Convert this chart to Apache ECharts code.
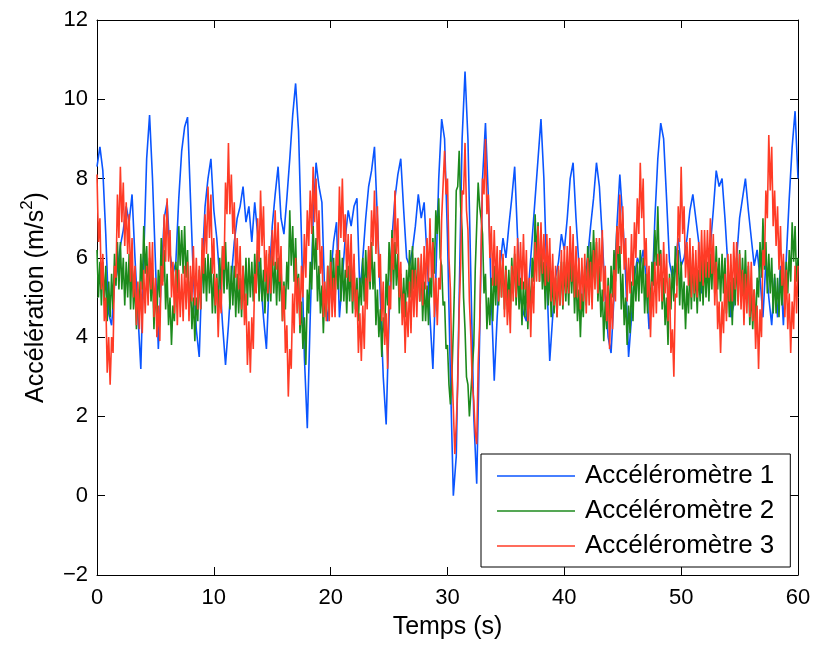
<!DOCTYPE html>
<html>
<head>
<meta charset="utf-8">
<script src="https://cdn.jsdelivr.net/npm/echarts@6/dist/echarts.min.js"></script>
<style>
html,body{margin:0;padding:0;background:#fff;}
#chart{width:818px;height:646px;}
</style>
</head>
<body>
<div id="chart"></div>
<script>
// sample steps (s)
const step1 = 0.25;
const step23 = 0.125;
const seriesNames = ['Accéléromètre 1', 'Accéléromètre 2', 'Accéléromètre 3'];
const xTicks = [0, 10, 20, 30, 40, 50, 60];
const yTicks = [-2, 0, 2, 4, 6, 8, 10, 12];

// Accéléromètre 1, one value every 0.25 s
const accel1 = [
8.3,8.8,8.2,6.6, 4.6,4.3,5.3,5.7, 6.3,6.7,7.3,6.9, 7.6,6.0,4.6,3.2,
6.0,8.5,9.6,8.0, 5.9,3.7,5.5,7.0, 7.4,6.1,5.6,5.9, 7.5,8.7,9.3,9.55,
7.5,5.5,4.2,3.5, 5.8,7.3,8.0,8.5, 7.2,6.5,5.5,4.3, 3.3,4.3,5.5,6.4,
7.0,7.3,7.8,6.9, 7.3,6.4,7.4,6.6, 5.5,4.5,3.7,5.5, 6.8,7.6,8.3,7.0,
6.6,7.5,8.5,9.6, 10.4,9.2,6.5,3.5, 1.7,4.5,7.0,8.4, 7.8,7.4,5.0,4.4,
5.5,6.4,6.9,4.5, 5.5,6.5,7.2,6.8, 7.3,7.5,5.1,6.0, 7.0,7.8,8.2,8.8,
7.0,5.0,3.0,1.8, 4.5,6.5,7.5,8.1, 8.5,7.2,6.0,5.8, 6.2,6.8,7.6,7.0,
7.4,6.0,4.5,3.2, 5.5,8.0,9.5,9.0, 6.5,3.0,0.0,1.0, 5.0,9.0,10.7,9.0,
5.5,2.0,0.3,4.0, 8.0,9.4,7.5,5.0, 2.9,4.5,5.8,6.5, 6.0,6.8,7.5,8.3,
6.5,5.0,4.6,4.4, 5.5,6.5,7.5,8.5, 9.5,8.0,5.5,3.4, 4.5,5.5,5.9,6.6,
6.2,7.0,8.0,8.4, 7.0,5.8,4.7,5.5, 6.0,6.8,7.5,8.4, 7.8,6.5,5.0,4.0,
3.6,5.0,6.8,8.1, 7.0,5.5,3.5,4.5, 5.5,6.0,5.8,6.2, 5.5,4.2,5.0,7.0,
8.5,9.4,9.0,7.5, 5.9,5.5,5.9,6.5, 5.8,6.0,6.5,7.2, 7.6,7.0,6.4,5.1,
6.0,5.5,6.3,7.2, 8.2,7.8,8.0,7.0, 5.8,4.5,4.8,6.0, 7.0,7.5,8.0,7.2,
6.5,5.8,6.2,5.5, 4.5,5.9,5.0,4.3, 5.5,4.5,5.8,4.3, 6.0,7.5,8.8,9.7,
8.0
];

// Accéléromètre 2, one value every 0.125 s (one row per second)
const accel2 = [
6.2,5.0,5.9,4.8,5.9,4.9,5.8,4.4,
5.4,4.5,5.6,4.7,6.1,5.3,6.4,5.2,
6.4,5.2,6.0,4.8,5.9,5.0,6.1,4.7,
5.9,4.7,5.4,4.2,5.2,4.7,6.1,5.2,
6.8,5.6,6.3,5.0,6.0,4.9,5.7,4.2,
5.2,4.5,5.7,5.0,6.5,5.4,6.2,4.7,
5.6,4.3,5.0,3.8,4.8,4.4,5.9,5.1,
6.8,5.8,6.7,5.6,6.8,5.5,6.2,4.6,
5.4,4.2,5.0,3.9,5.0,4.4,5.7,4.7,
6.2,5.1,6.0,4.9,6.1,5.1,6.0,4.6,
5.6,4.6,5.6,4.7,6.0,5.2,6.3,5.1,
6.4,5.2,5.9,4.7,5.8,4.8,5.8,4.5,
5.6,4.6,5.5,4.5,5.8,4.9,6.0,4.8,
6.0,5.0,5.9,4.9,6.1,5.2,6.2,4.9,
6.0,4.9,5.7,4.6,5.7,4.9,6.1,4.9,
6.2,5.1,5.9,4.8,6.0,4.9,5.8,4.4,
5.4,4.7,5.9,5.2,7.2,5.8,6.8,5.4,
6.5,5.1,5.6,4.1,4.9,3.7,4.5,3.3,
5.2,4.6,5.9,5.2,6.8,5.7,6.5,4.9,
5.8,4.6,5.3,4.1,5.2,4.5,5.8,4.8,
6.2,5.1,6.0,4.9,6.1,5.2,6.2,4.9,
6.0,4.9,5.7,4.6,5.8,4.9,5.9,4.6,
5.8,4.7,5.5,4.4,5.5,4.8,6.0,4.9,
6.2,5.2,6.2,5.2,6.4,5.2,5.9,4.3,
5.2,4.0,4.7,3.5,4.5,4.1,5.6,4.8,
6.4,5.4,6.7,5.2,6.4,5.3,6.1,4.6,
5.6,4.6,5.5,4.5,5.7,5.0,6.2,5.0,
6.3,5.2,6.0,4.9,6.0,4.9,5.8,4.4,
5.4,4.4,5.3,4.3,5.5,5.0,6.5,5.6,
7.2,6.6,7.5,6.0,5.8,4.8,4.9,3.7,
3.8,2.8,2.3,3.0,4.2,5.6,7.7,7.8,
8.7,7.3,6.7,5.0,4.2,3.0,2.8,2.0,
2.0,3.2,3.8,5.7,6.8,7.9,7.3,7.0,
6.6,5.1,5.6,4.2,5.0,4.3,5.5,4.4,
5.8,4.8,5.8,4.8,6.0,5.0,6.0,4.7,
5.8,4.8,5.7,4.7,6.0,5.1,6.1,4.8,
5.9,4.7,5.5,4.3,5.4,4.5,5.5,4.2,
5.3,4.7,6.0,5.4,7.1,6.0,6.9,5.4,
6.4,5.2,5.9,4.7,5.8,4.8,5.8,4.5,
5.6,4.6,5.5,4.5,5.7,4.8,5.9,4.7,
5.9,4.9,5.8,4.8,6.1,5.1,6.0,4.6,
5.6,4.4,5.2,4.0,5.1,4.5,5.8,4.8,
6.3,5.4,6.4,5.4,6.7,5.6,6.4,4.9,
5.8,4.5,5.2,3.9,4.9,4.2,5.5,4.4,
5.8,5.0,6.2,5.4,6.8,5.6,6.3,4.7,
5.6,4.3,5.0,3.8,4.8,4.1,5.4,4.4,
5.8,4.9,5.9,4.9,6.2,5.1,6.0,4.6,
5.6,4.6,5.6,4.6,5.9,5.3,6.7,5.8,
7.3,5.8,6.2,4.7,5.5,4.3,5.0,3.8,
5.6,4.7,5.8,4.9,6.3,5.3,6.2,4.8,
5.9,4.7,5.4,4.2,5.3,4.6,5.8,4.7,
6.1,4.9,5.7,4.6,5.7,4.9,6.0,4.8,
6.0,5.0,5.9,4.9,6.1,5.2,6.3,5.1,
6.3,5.2,6.0,4.9,6.1,5.1,6.0,4.6,
5.6,4.5,5.4,4.3,5.5,4.8,6.0,4.9,
6.2,5.1,6.0,5.0,6.2,5.0,5.8,4.3,
5.2,4.2,5.2,4.2,5.5,5.0,6.4,5.5,
7.0,5.7,6.4,5.1,6.1,5.1,6.0,4.6,
5.6,4.6,5.5,4.5,5.7,4.8,5.9,4.7,
5.9,5.1,6.2,5.4,6.9,5.9,6.8,5.4,
6.0
];

// Accéléromètre 3, one value every 0.125 s (one row per second)
const accel3 = [
8.1,6.4,7.0,5.2,6.1,4.4,5.0,3.1,
4.0,2.8,4.0,3.6,5.8,5.5,7.6,6.5,
8.3,6.9,7.9,6.3,7.4,6.1,7.1,5.4,
6.5,5.0,5.8,4.3,5.4,4.2,5.4,4.1,
5.7,4.6,5.8,4.8,6.4,5.2,6.4,4.5,
5.5,4.0,4.8,3.9,5.8,5.3,7.1,5.9,
7.5,5.9,6.7,5.0,5.9,4.6,5.7,4.3,
5.7,4.5,5.6,4.4,5.8,4.7,5.9,4.4,
5.8,4.9,6.3,4.8,6.0,4.7,5.8,4.7,
6.5,5.6,7.1,6.1,7.8,6.5,7.6,5.6,
6.5,4.8,5.5,4.0,5.2,4.6,6.3,5.7,
7.9,7.1,8.9,7.1,8.1,6.6,7.4,5.5,
6.5,5.2,6.3,4.7,5.8,4.3,5.1,3.3,
4.4,3.1,4.5,3.7,5.6,5.1,7.0,5.9,
7.7,6.3,7.3,5.4,6.2,5.1,6.3,5.1,
6.7,5.8,7.2,5.7,6.9,5.4,6.3,4.4,
5.3,3.6,4.3,2.5,3.7,3.2,5.1,4.1,
6.0,4.6,5.5,4.3,5.8,5.0,6.6,5.5,
7.2,6.3,7.7,6.6,8.3,6.9,8.0,6.2,
7.2,5.6,6.3,4.5,5.4,4.4,5.8,4.4,
5.9,4.5,5.5,4.5,6.2,5.8,7.8,6.5,
8.0,6.4,7.1,5.5,6.6,5.4,6.6,4.9,
6.1,4.5,5.2,3.6,4.6,3.4,4.8,3.7,
5.5,4.7,6.3,5.4,7.2,6.3,7.7,6.1,
7.3,5.5,6.1,4.4,5.4,3.8,4.6,3.2,
5.3,4.7,6.5,5.7,7.7,6.1,7.0,5.0,
5.9,4.3,5.1,3.6,4.9,4.0,5.4,4.1,
5.7,4.5,5.7,4.5,6.0,4.9,6.1,4.8,
6.3,5.2,6.5,5.4,7.0,5.5,6.4,4.5,
5.5,4.3,5.5,5.2,7.0,7.0,8.7,7.6,
8.0,6.0,5.2,3.2,2.2,1.05,1.8,2.8,
4.7,5.8,7.7,7.6,8.9,7.2,6.7,4.9,
4.0,2.8,2.4,1.6,1.3,3.3,4.3,6.2,
8.0,7.6,9.0,7.1,7.6,6.0,6.8,5.3,
6.7,5.3,6.3,4.9,6.2,5.0,6.1,4.5,
5.7,4.3,5.2,4.1,5.8,4.9,6.3,5.0,
6.5,5.3,6.4,5.2,6.6,5.2,6.2,4.4,
5.5,4.0,5.5,4.6,6.4,5.4,6.8,5.4,
6.9,5.6,6.6,5.3,6.6,5.4,6.5,4.9,
6.1,4.8,5.8,4.5,5.8,4.8,6.2,4.8,
6.3,5.1,6.3,5.1,6.8,5.4,6.6,5.0,
6.3,5.0,6.0,4.7,6.0,4.9,6.1,4.6,
6.0,4.8,5.9,4.7,6.2,5.2,6.5,5.1,
6.5,5.4,6.7,4.9,5.8,4.4,5.3,3.7,
5.1,4.2,5.7,4.9,6.8,6.1,7.6,6.1,
7.3,5.7,6.5,4.9,6.0,5.1,6.6,5.3,
6.9,6.0,7.5,6.6,8.4,7.0,8.0,5.8,
6.5,5.0,5.8,4.0,5.4,4.5,5.9,4.6,
6.1,4.9,6.1,4.9,6.4,5.1,6.1,4.4,
5.5,3.6,4.2,3.0,5.1,5.0,7.3,6.4,
8.3,6.6,7.3,5.5,6.4,5.3,6.5,5.0,
6.3,5.1,6.2,5.0,6.4,5.4,6.7,5.3,
6.7,5.5,6.7,5.5,7.0,5.6,6.6,4.8,
5.9,4.2,4.9,3.6,4.9,4.1,5.6,4.4,
6.1,4.9,6.1,4.9,6.4,5.2,6.4,4.8,
6.1,4.7,5.7,4.3,5.6,4.6,5.9,4.5,
5.9,4.4,5.2,3.7,4.8,3.2,4.7,4.0,
6.2,5.8,7.7,7.0,9.1,7.7,8.8,6.8,
7.7,6.3,7.3,5.7,6.8,5.3,6.1,4.5,
5.7,4.2,5.1,3.6,4.9,4.2,5.8,4.6,
5.8
];

const colors = ['#0a55ff', '#1c8a1c', '#ff3b26'];
const FONT = '"Liberation Sans", Arial, Helvetica, sans-serif';

function pairs(arr, step) {
  return arr.map((v, i) => [i * step, v]);
}

const chart = echarts.init(document.getElementById('chart'), null, {renderer: 'canvas'});
const fmtNum = v => String(v).replace('-', '\u2212');

const axisCommon = {
  axisLine: {show: true, onZero: false, lineStyle: {color: '#000', width: 1}},
  axisTick: {show: true, inside: true, length: 8, lineStyle: {color: '#000'}},
  splitLine: {show: false}
};

const option = {
  animation: false,
  backgroundColor: '#fff',
  color: colors,
  textStyle: {fontFamily: FONT},
  grid: {left: 97, right: 20, top: 20, bottom: 71, containLabel: false},
  legend: {
    orient: 'vertical',
    left: 481, top: 454,
    data: seriesNames,
    icon: 'rect',
    backgroundColor: '#fff',
    borderColor: '#000', borderWidth: 1, borderRadius: 0,
    padding: [9, 16, 8, 16],
    itemGap: 9,
    itemWidth: 78, itemHeight: 1.5,
    textStyle: {fontSize: 26, lineHeight: 26, color: '#000', fontFamily: FONT, padding: [0, 0, 0, 5]}
  },
  xAxis: [Object.assign({
    type: 'value', min: xTicks[0], max: xTicks[xTicks.length - 1], interval: 10,
    name: 'Temps (s)', nameLocation: 'middle', nameGap: 40,
    nameTextStyle: {fontSize: 25, color: '#000', fontFamily: FONT},
    axisLabel: {fontSize: 22, color: '#000', margin: 12, fontFamily: FONT, formatter: fmtNum}
  }, axisCommon), Object.assign({
    type: 'value', position: 'top', min: xTicks[0], max: xTicks[xTicks.length - 1], interval: 10,
    axisLabel: {show: false}
  }, axisCommon)],
  yAxis: [Object.assign({
    type: 'value', min: yTicks[0], max: yTicks[yTicks.length - 1], interval: 2,
    name: '{a|Accélération (m/s}{s|2}{a|)}', nameLocation: 'middle', nameGap: 48, nameRotate: 90,
    nameTextStyle: {
      color: '#000', fontFamily: FONT, fontSize: 25,
      rich: {
        a: {fontSize: 25, color: '#000', fontFamily: FONT, lineHeight: 30, verticalAlign: 'bottom'},
        s: {fontSize: 17, color: '#000', fontFamily: FONT, lineHeight: 30, verticalAlign: 'top', padding: [0, 0, 10, 0]}
      }
    },
    axisLabel: {fontSize: 22, color: '#000', margin: 9, fontFamily: FONT, formatter: fmtNum}
  }, axisCommon), Object.assign({
    type: 'value', position: 'right', min: yTicks[0], max: yTicks[yTicks.length - 1], interval: 2,
    axisLabel: {show: false}
  }, axisCommon)],
  series: [[accel1, step1], [accel2, step23], [accel3, step23]].map((p, k) => ({
    name: seriesNames[k],
    type: 'line',
    data: pairs(p[0], p[1]),
    showSymbol: false,
    symbol: 'none',
    lineStyle: {width: k === 0 ? 1.6 : 1.6, color: colors[k]},
    itemStyle: {color: colors[k]},
    z: 2 + k
  }))
};
chart.setOption(option);
</script>
</body>
</html>
